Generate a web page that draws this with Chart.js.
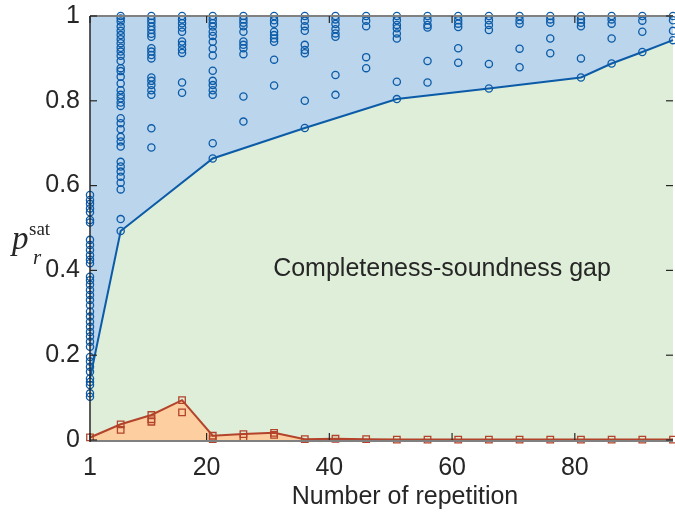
<!DOCTYPE html>
<html>
<head>
<meta charset="utf-8">
<script src="https://cdn.jsdelivr.net/npm/chart.js@4"></script>
<style>
html,body{margin:0;padding:0;background:#fff;}
#c{display:block;}
</style>
</head>
<body>
<canvas id="c" width="675" height="513"></canvas>
<script>
// ---- data ----
const columns = [1,6,11,16,21,26,31,36,41,46,51,56,61,66,71,76,81,86,91,96];
const xTicks = [1,20,40,60,80];
const yTicks = [0,0.2,0.4,0.6,0.8,1];

// lower envelope of completeness probabilities
const blueLineX = [1,6,21,36,51,66,81,86,91,96];
const blueLineY = [0.145,0.493,0.664,0.736,0.804,0.829,0.855,0.888,0.915,0.943];

// remaining completeness samples per column
const blueSamples = [
  [0.578,0.566,0.557,0.546,0.537,0.519,0.513,0.472,0.460,0.448,0.436,0.425,0.417,0.385,0.377,0.366,0.354,0.342,0.330,0.318,0.303,0.291,0.279,0.267,0.255,0.244,0.232,0.220,0.196,0.185,0.173,0.161,0.137,0.130,0.110,0.102],
  [1.0,0.994,0.987,0.975,0.965,0.955,0.945,0.936,0.925,0.916,0.906,0.894,0.877,0.870,0.857,0.841,0.825,0.814,0.806,0.796,0.788,0.759,0.747,0.733,0.715,0.704,0.692,0.656,0.645,0.633,0.621,0.607,0.591,0.521],
  [1.0,0.992,0.984,0.975,0.967,0.958,0.951,0.924,0.916,0.908,0.900,0.855,0.847,0.837,0.825,0.814,0.735,0.690],
  [1.0,0.992,0.983,0.973,0.963,0.940,0.932,0.921,0.913,0.843,0.819],
  [1.0,0.992,0.983,0.975,0.963,0.953,0.939,0.923,0.907,0.871,0.847,0.837,0.825,0.814,0.700],
  [1.0,0.992,0.984,0.976,0.963,0.940,0.932,0.924,0.910,0.810,0.751],
  [1.0,0.990,0.982,0.963,0.955,0.947,0.939,0.897,0.836],
  [1.0,0.989,0.976,0.965,0.932,0.920,0.912,0.800],
  [1.0,0.992,0.981,0.969,0.959,0.951,0.861,0.814],
  [1.0,0.989,0.976,0.903,0.877],
  [1.0,0.990,0.979,0.971,0.959,0.947,0.845],
  [1.0,0.990,0.979,0.973,0.894,0.843],
  [1.0,0.990,0.982,0.974,0.924,0.890],
  [1.0,0.990,0.979,0.967,0.887],
  [1.0,0.990,0.982,0.923,0.879],
  [1.0,0.992,0.984,0.947,0.912],
  [1.0,0.992,0.984,0.976,0.900],
  [1.0,0.992,0.982,0.947],
  [1.0,0.989,0.963],
  [1.0,0.990,0.965]
];

// upper envelope of soundness probabilities
const redLineY = [0.006,0.037,0.059,0.094,0.010,0.014,0.017,0.002,0.003,0.002,0.001,0.001,0.001,0.001,0.001,0.001,0.001,0.001,0.001,0.001];
const redSamples = [[],[0.024],[0.049,0.043],[0.065],[0.002],[0.006],[0.012],[],[],[],[],[],[],[],[],[],[],[],[],[]];

const gapLabel = 'Completeness-soundness gap';
const xTitle = 'Number of repetition';

// ---- styles ----
const BLUE = '#0b5ba8';
const RED = '#b3432a';
const BLUE_FILL = '#bad5ec';
const GREEN_FILL = '#dfeed8';
const ORANGE_FILL = '#fccea0';
const TXT = '#262626';
const SANS = '"Liberation Sans", Arial, sans-serif';

const bluePts = [];
blueSamples.forEach((col,i)=>col.forEach(v=>bluePts.push({x:columns[i], y:v})));
const redPts = [];
redSamples.forEach((col,i)=>col.forEach(v=>redPts.push({x:columns[i], y:v})));
const blueLine = blueLineX.map((x,i)=>({x, y:blueLineY[i]}));
const redLine = columns.map((x,i)=>({x, y:redLineY[i]}));

const decor = {
  id:'decor',
  afterDatasetsDraw(chart){
    const {ctx, chartArea:a, scales:{x, y}} = chart;
    ctx.save();
    ctx.lineWidth = 2;
    ctx.strokeStyle = '#808080';
    ctx.beginPath(); ctx.moveTo(a.left, a.top); ctx.lineTo(a.right, a.top); ctx.stroke();
    ctx.beginPath(); ctx.moveTo(a.left, a.bottom+1); ctx.lineTo(a.right, a.bottom+1); ctx.stroke();
    ctx.strokeStyle = '#262626';
    ctx.lineWidth = 1.5;
    ctx.beginPath(); ctx.moveTo(a.left, a.top); ctx.lineTo(a.left, a.bottom+2); ctx.stroke();
    ctx.lineWidth = 1.2;
    xTicks.forEach(v=>{
      const px = x.getPixelForValue(v);
      ctx.beginPath(); ctx.moveTo(px, a.bottom); ctx.lineTo(px, a.bottom-7); ctx.stroke();
      ctx.beginPath(); ctx.moveTo(px, a.top); ctx.lineTo(px, a.top+7); ctx.stroke();
    });
    yTicks.forEach(v=>{
      const py = y.getPixelForValue(v);
      ctx.beginPath(); ctx.moveTo(a.left, py); ctx.lineTo(a.left+7, py); ctx.stroke();
      ctx.beginPath(); ctx.moveTo(a.right, py); ctx.lineTo(a.right-7, py); ctx.stroke();
    });
    ctx.restore();
  },
  afterDraw(chart){
    const {ctx} = chart;
    ctx.save();
    ctx.fillStyle = TXT;
    ctx.textBaseline = 'alphabetic';
    ctx.textAlign = 'center';
    ctx.font = '25px ' + SANS;
    ctx.fillText(gapLabel, 442, 276);
    ctx.fillText(xTitle, 405, 504);
    ctx.textAlign = 'left';
    ctx.font = 'italic 33px "Liberation Serif", "Times New Roman", serif';
    ctx.fillText('p', 12, 249);
    ctx.font = 'italic 21px "Liberation Serif", "Times New Roman", serif';
    ctx.fillText('r', 33, 264);
    ctx.font = '19px "Liberation Serif", "Times New Roman", serif';
    ctx.fillText('sat', 29, 235);
    ctx.restore();
  }
};

new Chart(document.getElementById('c'), {
  type:'scatter',
  data:{
    datasets:[
      {label:'completeness samples', data:bluePts, showLine:false, pointStyle:'circle', pointRadius:3.6,
       borderColor:BLUE, backgroundColor:'rgba(0,0,0,0)', pointBorderWidth:1.3, order:1, clip:false},
      {label:'soundness samples', data:redPts, showLine:false, pointStyle:'rect', pointRadius:4.6,
       borderColor:RED, backgroundColor:'rgba(0,0,0,0)', pointBorderWidth:1.3, order:2, clip:false},
      {label:'completeness', data:blueLine, showLine:true, borderColor:BLUE, borderWidth:2,
       backgroundColor:BLUE_FILL, fill:'end', pointStyle:'circle', pointRadius:3.6,
       pointBorderColor:BLUE, pointBackgroundColor:'rgba(0,0,0,0)', pointBorderWidth:1.3, order:3, clip:false},
      {label:'soundness', data:redLine, showLine:true, borderColor:RED, borderWidth:2,
       backgroundColor:ORANGE_FILL, fill:'origin', pointStyle:'rect', pointRadius:4.6,
       pointBorderColor:RED, pointBackgroundColor:'rgba(0,0,0,0)', pointBorderWidth:1.3, order:4, clip:false},
      {label:'gap', data:blueLine, showLine:true, borderWidth:0, borderColor:'rgba(0,0,0,0)',
       backgroundColor:GREEN_FILL, fill:'origin', pointRadius:0, order:5}
    ]
  },
  options:{
    responsive:false,
    animation:false,
    events:[],
    layout:{autoPadding:false, padding:{top:16, right:2, left:0, bottom:0}},
    plugins:{legend:{display:false}, tooltip:{enabled:false}},
    scales:{
      x:{
        type:'linear', min:1, max:96,
        grid:{display:false}, border:{display:false},
        afterBuildTicks(s){ s.ticks = xTicks.map(v=>({value:v})); },
        afterFit(s){ s.height = 73; s.paddingLeft = 0; s.paddingRight = 0; },
        ticks:{color:TXT, font:{family:SANS, size:25}, padding:5, maxRotation:0, autoSkip:false,
               callback:v=>String(v)}
      },
      y:{
        type:'linear', min:0, max:1,
        grid:{display:false}, border:{display:false},
        afterBuildTicks(s){ s.ticks = yTicks.map(v=>({value:v})); },
        afterFit(s){ s.width = 90; s.paddingTop = 0; s.paddingBottom = 0; },
        ticks:{color:TXT, font:{family:SANS, size:25}, padding:2,
               callback:v=>String(Number(v.toFixed(1)))}
      }
    }
  },
  plugins:[decor]
});
</script>
</body>
</html>
